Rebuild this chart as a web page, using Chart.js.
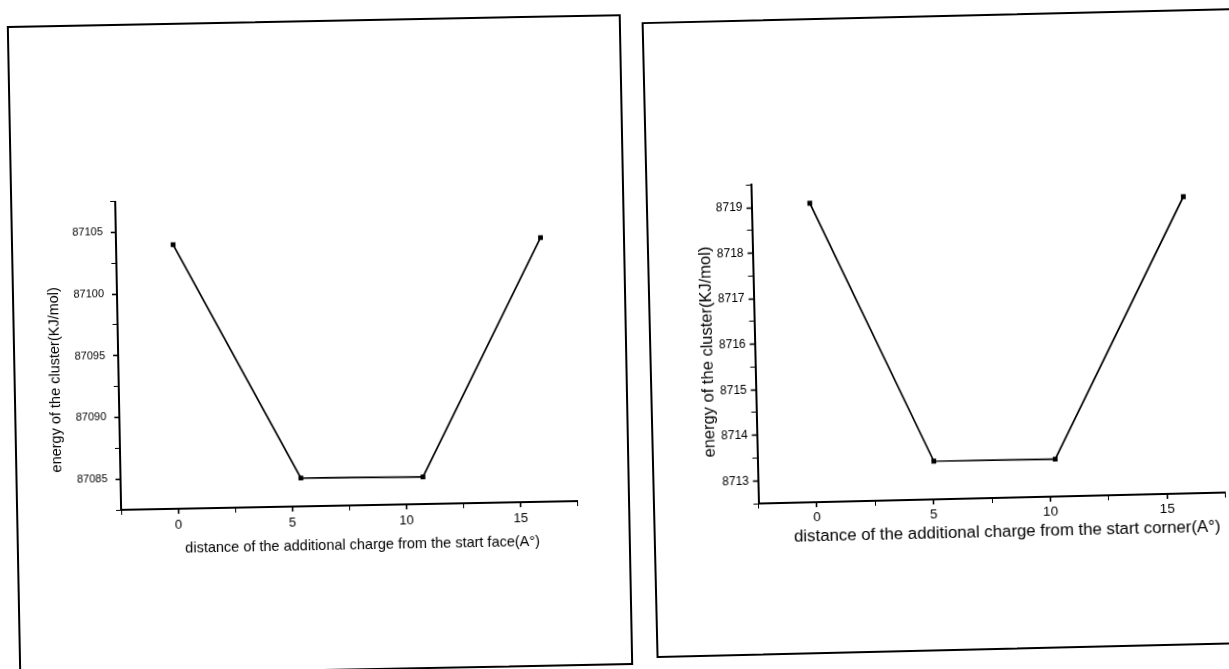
<!DOCTYPE html>
<html><head><meta charset="utf-8">
<script src="https://cdn.jsdelivr.net/npm/chart.js@4/dist/chart.umd.min.js"></script>
<style>
html,body{margin:0;padding:0;background:#fff;overflow:hidden;width:1229px;height:669px;position:relative;}
.panel{position:absolute;border:2px solid #000;background:#fff;box-sizing:content-box;transform-origin:50% 50%;}
#p1{left:12.5px;top:19.5px;width:610px;height:647px;transform:rotate(-1.1deg);}
#p2{left:648.5px;top:15px;width:596px;height:632px;transform:rotate(-1.35deg);}
canvas{display:block;}
</style></head><body>
<div class="panel" id="p1"><canvas id="c1" width="610" height="647"></canvas></div>
<div class="panel" id="p2"><canvas id="c2" width="596" height="632"></canvas></div>
<script>
// ---- data ----
const xTickValues = [0, 5, 10, 15];
const xTickLabels = ['0', '5', '10', '15'];

const faceDistance = [0, 5.4, 10.75, 16.1];
const faceEnergy = [87103.9, 87084.8, 87084.7, 87103.9];
const faceYTicks = [87085, 87090, 87095, 87100, 87105];
const faceYLabels = ['87085', '87090', '87095', '87100', '87105'];

const cornerDistance = [0, 5.05, 10.25, 16.0];
const cornerEnergy = [8719.07, 8713.34, 8713.32, 8719.02];
const cornerYTicks = [8713, 8714, 8715, 8716, 8717, 8718, 8719];
const cornerYLabels = ['8713', '8714', '8715', '8716', '8717', '8718', '8719'];

const yTitleText = 'energy of the cluster(KJ/mol)';
const faceXTitle = 'distance of the additional charge from the start face(A\u00B0)';
const cornerXTitle = 'distance of the additional charge from the start corner(A\u00B0)';

const FONT = '"Liberation Sans", Arial, sans-serif';

// axis titles placed relative to the chart area
const axisTitlePlugin = {
  id: 'axisTitles',
  afterDraw(chart, args, o) {
    const {ctx, chartArea} = chart;
    ctx.save();
    ctx.fillStyle = '#000';
    ctx.textAlign = 'center';
    ctx.textBaseline = 'middle';
    // y title
    ctx.font = o.y.size + 'px ' + FONT;
    ctx.save();
    ctx.translate(o.y.x, (chartArea.top + chartArea.bottom) / 2 + o.y.dy);
    ctx.rotate(-Math.PI / 2);
    ctx.fillText(o.y.text, 0, 0);
    ctx.restore();
    // x title
    ctx.font = o.x.size + 'px ' + FONT;
    ctx.fillText(o.x.text, (chartArea.left + chartArea.right) / 2 + o.x.dx, chartArea.bottom + o.x.dy);
    ctx.restore();
  }
};

function labelFor(values, labels, v) {
  for (let i = 0; i < values.length; i++) {
    if (Math.abs(values[i] - v) < 1e-6) return labels[i];
  }
  return '';
}
function isMajor(values, v) {
  return values.some(t => Math.abs(t - v) < 1e-6);
}

function makeChart(id, c) {
  const pts = c.xs.map((x, i) => ({x: x, y: c.ys[i]}));
  return new Chart(document.getElementById(id), {
    type: 'line',
    data: {datasets: [{
      data: pts,
      borderColor: '#000',
      borderWidth: 1.7,
      backgroundColor: '#000',
      pointStyle: 'rect',
      pointRadius: 3.4,
      pointBorderWidth: 0,
      pointBackgroundColor: '#000',
      tension: 0
    }]},
    plugins: [axisTitlePlugin],
    options: {
      responsive: false,
      animation: false,
      layout: {padding: c.pad},
      plugins: {
        legend: {display: false},
        tooltip: {enabled: false},
        axisTitles: c.titles
      },
      scales: {
        x: {
          type: 'linear',
          min: -2.5, max: 17.5,
          afterFit: s => { s.height = c.xH; },
          border: {display: true, color: '#000', width: 2},
          grid: {drawOnChartArea: false, drawTicks: true, tickLength: 5, color: '#000',
                 tickWidth: ctx => isMajor(xTickValues, ctx.tick.value) ? 1.6 : 1},
          ticks: {
            stepSize: 2.5, autoSkip: false, maxRotation: 0, padding: c.xTickPad,
            color: '#000', font: {family: FONT, size: c.xTickSize},
            callback: v => labelFor(xTickValues, xTickLabels, v)
          }
        },
        y: {
          type: 'linear',
          min: c.yMin, max: c.yMax,
          afterFit: s => { s.width = c.yW; },
          border: {display: true, color: '#000', width: 2},
          grid: {drawOnChartArea: false, drawTicks: true, tickLength: 5, color: '#000',
                 tickWidth: ctx => isMajor(c.yTicks, ctx.tick.value) ? 1.6 : 1},
          ticks: {
            stepSize: c.yStep, autoSkip: false, padding: c.yTickPad,
            color: '#000', font: {family: FONT, size: c.yTickSize},
            callback: v => labelFor(c.yTicks, c.yLabels, v)
          }
        }
      }
    }
  });
}

makeChart('c1', {
  xs: faceDistance, ys: faceEnergy,
  yTicks: faceYTicks, yLabels: faceYLabels,
  yMin: 87082.5, yMax: 87107.5, yStep: 2.5,
  pad: {left: 0, top: 175.5, right: 50.5, bottom: 114},
  yW: 103, xH: 49,
  xTickPad: 4, xTickSize: 13, yTickPad: 8, yTickSize: 11,
  titles: {
    x: {text: faceXTitle, size: 14.5, dx: 12.5, dy: 40.3},
    y: {text: yTitleText, size: 14.5, x: 39.5, dy: 23}
  }
});

makeChart('c2', {
  xs: cornerDistance, ys: cornerEnergy,
  yTicks: cornerYTicks, yLabels: cornerYLabels,
  yMin: 8712.5, yMax: 8719.5, yStep: 0.5,
  pad: {left: 0, top: 163.4, right: 25.5, bottom: 105.8},
  yW: 103.5, xH: 44.2,
  xTickPad: 2, xTickSize: 13.5, yTickPad: 4, yTickSize: 12,
  titles: {
    x: {text: cornerXTitle, size: 16.8, dx: 14.5, dy: 34.3},
    y: {text: yTitleText, size: 16.5, x: 56.5, dy: 6.6}
  }
});
</script>
</body></html>
